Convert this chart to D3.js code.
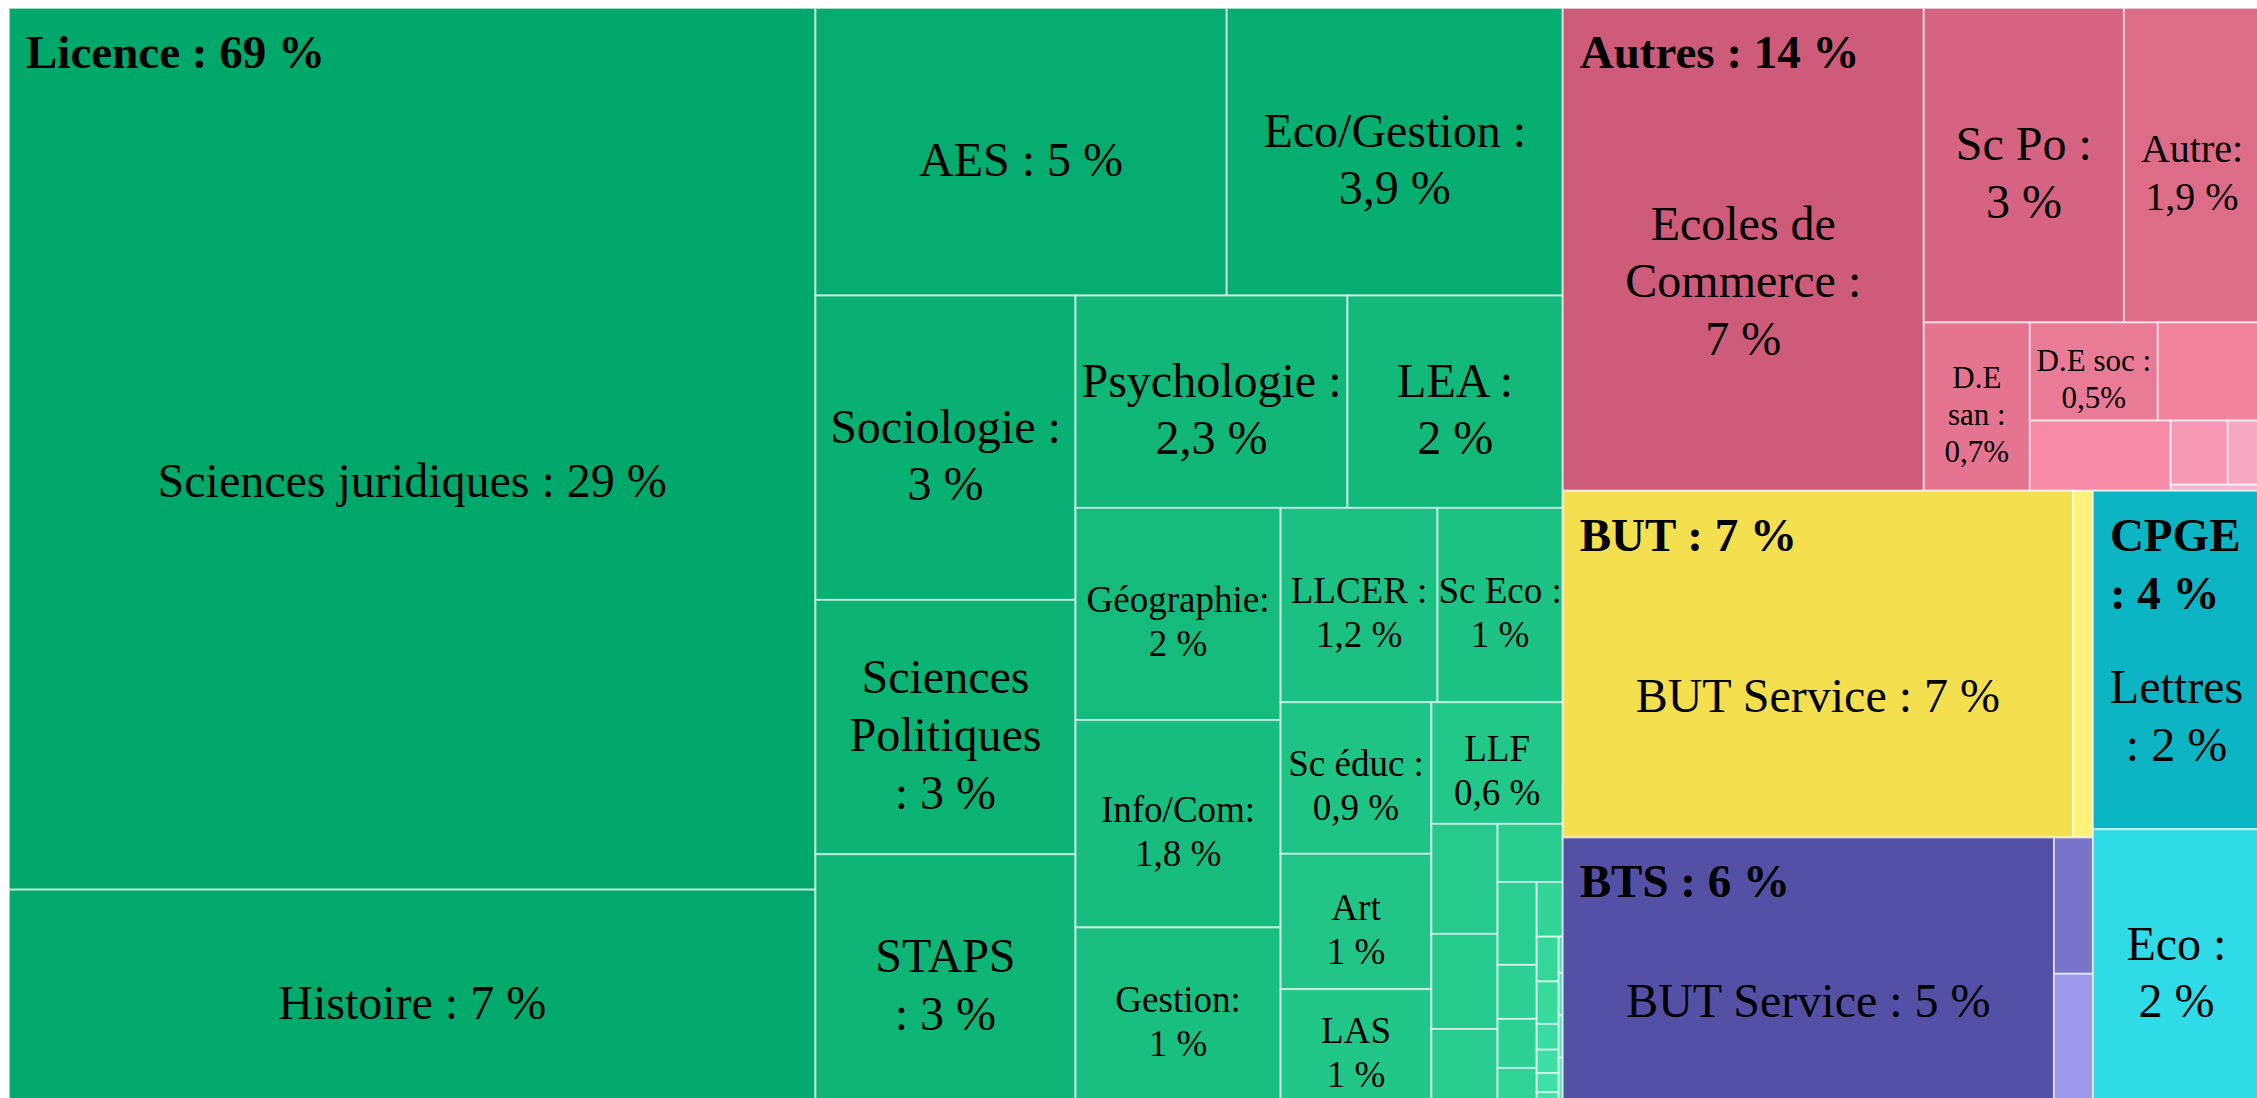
<!DOCTYPE html>
<html lang="fr">
<head>
<meta charset="UTF-8">
<title>Orientation post-bac</title>
<script src="https://d3js.org/d3.v7.min.js"></script>
<style>
  body { margin: 0; background: #fff; }
  svg { display: block; }
  text { font-family: "Liberation Serif", "Times New Roman", serif; fill: #000; }
  .head { font-weight: bold; font-size: 47px; }
</style>
</head>
<body>
<div id="chart"></div>
<script>
// groups, in drawing order
const groupLabels = ["Licence : 69 %", "Autres : 14 %", "BUT : 7 %", "BTS : 6 %", "CPGE\n: 4 %"];
const rootRows = [1, 1, 2, 1];

// Licence (in %)
const licenceLabels = [
  "Sciences juridiques : 29 %", "Histoire : 7 %",
  "AES : 5 %", "Eco/Gestion :\n3,9 %",
  "Sociologie :\n3 %", "Sciences\nPolitiques\n: 3 %", "STAPS\n: 3 %",
  "Psychologie :\n2,3 %", "LEA :\n2 %",
  "Géographie:\n2 %", "Info/Com:\n1,8 %", "Gestion:\n1 %",
  "LLCER :\n1,2 %", "Sc Eco :\n1 %",
  "Sc éduc :\n0,9 %", "Art\n1 %", "LAS\n1 %",
  "LLF\n0,6 %",
  "", "", "", "", "", "", "", "", "", "", "", "", "", "", "", "", "", "", "", ""
];
const licenceValues = [
  28.92, 6.90,
  4.81, 3.93,
  3.22, 2.69, 2.60,
  2.35, 1.86,
  1.77, 1.73, 1.44,
  1.24, 0.99,
  0.93, 0.83, 0.68,
  0.65,
  0.296, 0.256, 0.191,
  0.154,
  0.132, 0.086, 0.078, 0.051,
  0.058,
  0.040, 0.038, 0.023, 0.021, 0.017, 0.007,
  0.006,
  0.007, 0.007, 0.007
];
const licenceRows = [2, 2, 3, 2, 3, 2, 3, 1, 3, 1, 4, 1, 6, 1, 3];

const autresLabels = ["Ecoles de\nCommerce :\n7 %", "Sc Po :\n3 %", "Autre:\n1,9 %", "D.E\nsan :\n0,7%",
  "D.E soc :\n0,5%", "", "", "", "", ""];
const autresValues = [7.09, 2.56, 1.74, 0.726, 0.511, 0.408, 0.402, 0.149, 0.084, 0.022];
const autresRows = [1, 2, 1, 2, 1, 2, 1];

const butLabels = ["BUT Service : 7 %", ""];
const butValues = [7.195, 0.282];
const butRows = [1, 1];

const btsLabels = ["BUT Service : 5 %", "", ""];
const btsValues = [5.245, 0.216, 0.200];
const btsRows = [1, 1, 1];

const cpgeLabels = ["Lettres\n: 2 %", "Eco :\n2 %"];
const cpgeValues = [2.30, 1.84];
const cpgeRows = [2];

const palettes = [
  ["#00a86b", "#1cc283", "#2dd294", "#50eeb5"],
  ["#ce5b7a", "#e47490", "#f78aa6", "#f6b5cf"],
  ["#f4df4f", "#fff27a"],
  ["#5350a6", "#9c98ec"],
  ["#0bb5c4", "#2edbe6"]
];

const groups = [
  [licenceLabels, licenceValues, licenceRows],
  [autresLabels, autresValues, autresRows],
  [butLabels, butValues, butRows],
  [btsLabels, btsValues, btsRows],
  [cpgeLabels, cpgeValues, cpgeRows]
];

const data = {
  name: "root",
  rows: rootRows,
  children: groups.map((g, gi) => ({
    name: groupLabels[gi],
    index: gi,
    rows: g[2],
    children: g[0].map((lab, i) => ({ name: lab, value: g[1][i], rank: i }))
  }))
};

const W = 2257, H = 1098;
const x0 = 9, y0 = 8, cw = 2251, ch = 1092;

// rows alternate: column on the left, then row along the top, ...
function rowTile(node, x0, y0, x1, y1) {
  const rows = node.data.rows || [node.children.length];
  let i = 0, rest = node.value;
  rows.forEach((k, r) => {
    const row = { children: node.children.slice(i, i + k) };
    row.value = d3.sum(row.children, c => c.value);
    if (r % 2 === 0) {
      const xm = rest ? x0 + (x1 - x0) * row.value / rest : x1;
      d3.treemapSlice(row, x0, y0, xm, y1);
      x0 = xm;
    } else {
      const ym = rest ? y0 + (y1 - y0) * row.value / rest : y1;
      d3.treemapDice(row, x0, y0, x1, ym);
      y0 = ym;
    }
    rest -= row.value;
    i += k;
  });
}

const root = d3.hierarchy(data).sum(d => d.value || 0);
d3.treemap().size([cw, ch]).tile(rowTile)(root);

const svg = d3.select("#chart").append("svg")
  .attr("width", W)
  .attr("height", H);

const chart = svg.append("g").attr("transform", `translate(${x0},${y0})`);

root.children.forEach(group => {
  const gi = group.data.index;
  const n = group.children.length;
  const color = d3.piecewise(d3.interpolateRgb, palettes[gi]);
  const g = chart.append("g");

  group.children.forEach(leaf => {
    const t = n > 1 ? leaf.data.rank / (n - 1) : 0;
    g.append("rect")
      .attr("x", leaf.x0)
      .attr("y", leaf.y0)
      .attr("width", leaf.x1 - leaf.x0)
      .attr("height", leaf.y1 - leaf.y0)
      .attr("fill", color(t))
      .attr("stroke", "rgba(255,255,255,0.6)")
      .attr("stroke-width", 2);

    if (!leaf.data.name) return;
    const lines = leaf.data.name.split("\n");
    const v = leaf.value;
    const fs = v >= 1.8 ? 48 : (gi === 1 ? (v >= 1 ? 40 : 31) : 37);
    const lh = fs * 1.2;
    const headLines = group.data.name.split("\n").length;
    const cx = (leaf.x0 + leaf.x1) / 2;
    let cy = (leaf.y0 + leaf.y1) / 2 + 8;
    if (leaf.data.rank === 0) cy += 24 * headLines;
    const txt = g.append("text")
      .attr("text-anchor", "middle")
      .style("font-size", fs + "px");
    lines.forEach((l, i) => {
      txt.append("tspan")
        .attr("x", cx)
        .attr("y", cy + (i - (lines.length - 1) / 2) * lh + fs * 0.33)
        .text(l);
    });
  });

  const head = g.append("text").attr("class", "head");
  group.data.name.split("\n").forEach((l, i) => {
    head.append("tspan")
      .attr("x", group.x0 + 17)
      .attr("y", group.y0 + 60 + i * 58)
      .text(l);
  });
});
</script>
</body>
</html>
